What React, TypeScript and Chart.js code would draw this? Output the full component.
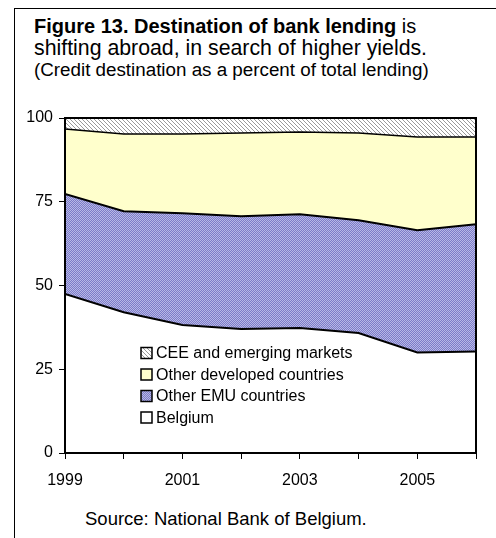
import React, { useEffect, useRef } from "react";
import { Chart, registerables } from "chart.js";

Chart.register(...registerables);

const years = [1999, 2000, 2001, 2002, 2003, 2004, 2005, 2006];
const belgium = [47.5, 42.0, 38.2, 37.0, 37.3, 35.8, 30.0, 30.3];
const otherEMU = [29.8, 30.2, 33.4, 33.7, 34.0, 33.7, 36.5, 38.0];
const otherDeveloped = [19.4, 23.0, 23.6, 24.8, 24.5, 26.0, 27.8, 26.0];
const ceeEmerging = [3.3, 4.8, 4.8, 4.5, 4.2, 4.5, 5.7, 5.7];
const seriesNames = [
  "Belgium",
  "Other EMU countries",
  "Other developed countries",
  "CEE and emerging markets",
];
const yTicks = [0, 25, 50, 75, 100];

const FONT = "'Liberation Sans', Arial, sans-serif";

function makeHatch(): CanvasPattern | string {
  const c = document.createElement("canvas");
  c.width = 4;
  c.height = 4;
  const g = c.getContext("2d");
  if (!g) return "#ddd";
  g.fillStyle = "#ffffff";
  g.fillRect(0, 0, 4, 4);
  g.fillStyle = "#9a9a9a";
  for (let i = 0; i < 4; i++) g.fillRect(i, i, 1, 1);
  return g.createPattern(c, "repeat") || "#ddd";
}

function makeDither(): CanvasPattern | string {
  const c = document.createElement("canvas");
  c.width = 2;
  c.height = 2;
  const g = c.getContext("2d");
  if (!g) return "#9999cc";
  g.fillStyle = "#7c7cc8";
  g.fillRect(0, 0, 2, 2);
  g.fillStyle = "#b8b8e6";
  g.fillRect(1, 0, 1, 1);
  g.fillRect(0, 1, 1, 1);
  return g.createPattern(c, "repeat") || "#9999cc";
}

export default function App() {
  const ref = useRef<HTMLCanvasElement>(null);

  useEffect(() => {
    if (!ref.current) return;
    const hatch = makeHatch();
    const dither = makeDither();
    const toPts = (arr: number[]) => arr.map((v, i) => ({ x: years[i], y: v }));

    const boxPlugin = {
      id: "plotBox",
      afterDatasetsDraw(chart: any) {
        const { ctx, chartArea: a } = chart;
        ctx.save();
        ctx.strokeStyle = "#000";
        ctx.lineWidth = 2;
        ctx.strokeRect(a.left, a.top, a.right - a.left, a.bottom - a.top);
        ctx.restore();
      },
    };

    const legendPlugin = {
      id: "innerLegend",
      afterDraw(chart: any) {
        const { ctx, chartArea: a } = chart;
        const ds = chart.data.datasets;
        ctx.save();
        ctx.font = `16px ${FONT}`;
        ctx.textBaseline = "middle";
        ctx.textAlign = "left";
        const order = [3, 2, 1, 0];
        order.forEach((di, row) => {
          const cy = a.top + 235 + row * 21.5;
          const x = a.left + 76;
          ctx.fillStyle = ds[di].backgroundColor;
          ctx.fillRect(x, cy - 5.5, 11, 11);
          ctx.strokeStyle = "#000";
          ctx.lineWidth = 1.5;
          ctx.strokeRect(x, cy - 5.5, 11, 11);
          ctx.fillStyle = "#000";
          ctx.fillText(ds[di].label, x + 15, cy + 1);
        });
        ctx.restore();
      },
    };

    const chart = new Chart(ref.current, {
      type: "line",
      data: {
        datasets: [
          {
            label: seriesNames[0],
            data: toPts(belgium),
            backgroundColor: "#ffffff",
            borderColor: "#000",
            borderWidth: 2,
            fill: "origin",
            pointRadius: 0,
            tension: 0,
          },
          {
            label: seriesNames[1],
            data: toPts(otherEMU),
            backgroundColor: dither as any,
            borderColor: "#000",
            borderWidth: 2,
            fill: "-1",
            pointRadius: 0,
            tension: 0,
          },
          {
            label: seriesNames[2],
            data: toPts(otherDeveloped),
            backgroundColor: "#ffffcc",
            borderColor: "#000",
            borderWidth: 1.5,
            fill: "-1",
            pointRadius: 0,
            tension: 0,
          },
          {
            label: seriesNames[3],
            data: toPts(ceeEmerging),
            backgroundColor: hatch as any,
            borderColor: "rgba(0,0,0,0)",
            borderWidth: 0,
            fill: "-1",
            pointRadius: 0,
            tension: 0,
          },
        ],
      },
      options: {
        animation: false,
        responsive: true,
        maintainAspectRatio: false,
        layout: { padding: { top: 23, right: 20, left: 0, bottom: 0 } },
        plugins: {
          legend: { display: false },
          tooltip: { enabled: false },
        },
        scales: {
          x: {
            type: "linear",
            min: years[0],
            max: years[years.length - 1],
            border: { display: false },
            grid: {
              drawOnChartArea: false,
              drawTicks: true,
              tickLength: 6,
              color: "#000",
            },
            ticks: {
              stepSize: 1,
              padding: 12,
              color: "#000",
              font: { family: FONT, size: 16 },
              maxRotation: 0,
              autoSkip: false,
              callback: (v: any) => (Number(v) % 2 === 1 ? String(v) : ""),
            },
            afterFit: (s: any) => {
              s.height = 47;
            },
          },
          y: {
            stacked: true,
            min: 0,
            max: 100,
            border: { display: false },
            grid: {
              drawOnChartArea: false,
              drawTicks: true,
              tickLength: 6,
              color: "#000",
            },
            afterBuildTicks: (s: any) => {
              s.ticks = yTicks.map((v) => ({ value: v }));
            },
            ticks: {
              padding: 6,
              color: "#000",
              font: { family: FONT, size: 16 },
            },
            afterFit: (s: any) => {
              s.width = 51;
            },
          },
        },
      },
      plugins: [boxPlugin, legendPlugin],
    });
    return () => chart.destroy();
  }, []);

  return (
    <div
      style={{
        position: "fixed",
        left: 0,
        top: 0,
        width: 496,
        height: 538,
        overflow: "hidden",
        background: "#fff",
        fontFamily: FONT,
        color: "#000",
      }}
    >
      <div
        style={{
          position: "absolute",
          left: 14,
          top: 8,
          width: 600,
          height: 700,
          borderLeft: "1px solid #000",
          borderTop: "1px solid #000",
        }}
      />
      <div
        style={{
          position: "absolute",
          left: 34,
          top: 15,
          whiteSpace: "nowrap",
        }}
      >
        <div style={{ fontSize: 20, lineHeight: "22px" }}>
          <b>Figure 13. Destination of bank lending</b> is
        </div>
        <div style={{ fontSize: 21.3, lineHeight: "22px" }}>
          shifting abroad, in search of higher yields.
        </div>
        <div style={{ fontSize: 18.8, lineHeight: "22px" }}>
          (Credit destination as a percent of total lending)
        </div>
      </div>
      <div
        style={{
          position: "absolute",
          left: 14,
          top: 95,
          width: 482,
          height: 405,
        }}
      >
        <canvas ref={ref} />
      </div>
      <div
        style={{
          position: "absolute",
          left: 85,
          top: 508,
          fontSize: 18.5,
          lineHeight: "22px",
          whiteSpace: "nowrap",
        }}
      >
        Source: National Bank of Belgium.
      </div>
    </div>
  );
}
